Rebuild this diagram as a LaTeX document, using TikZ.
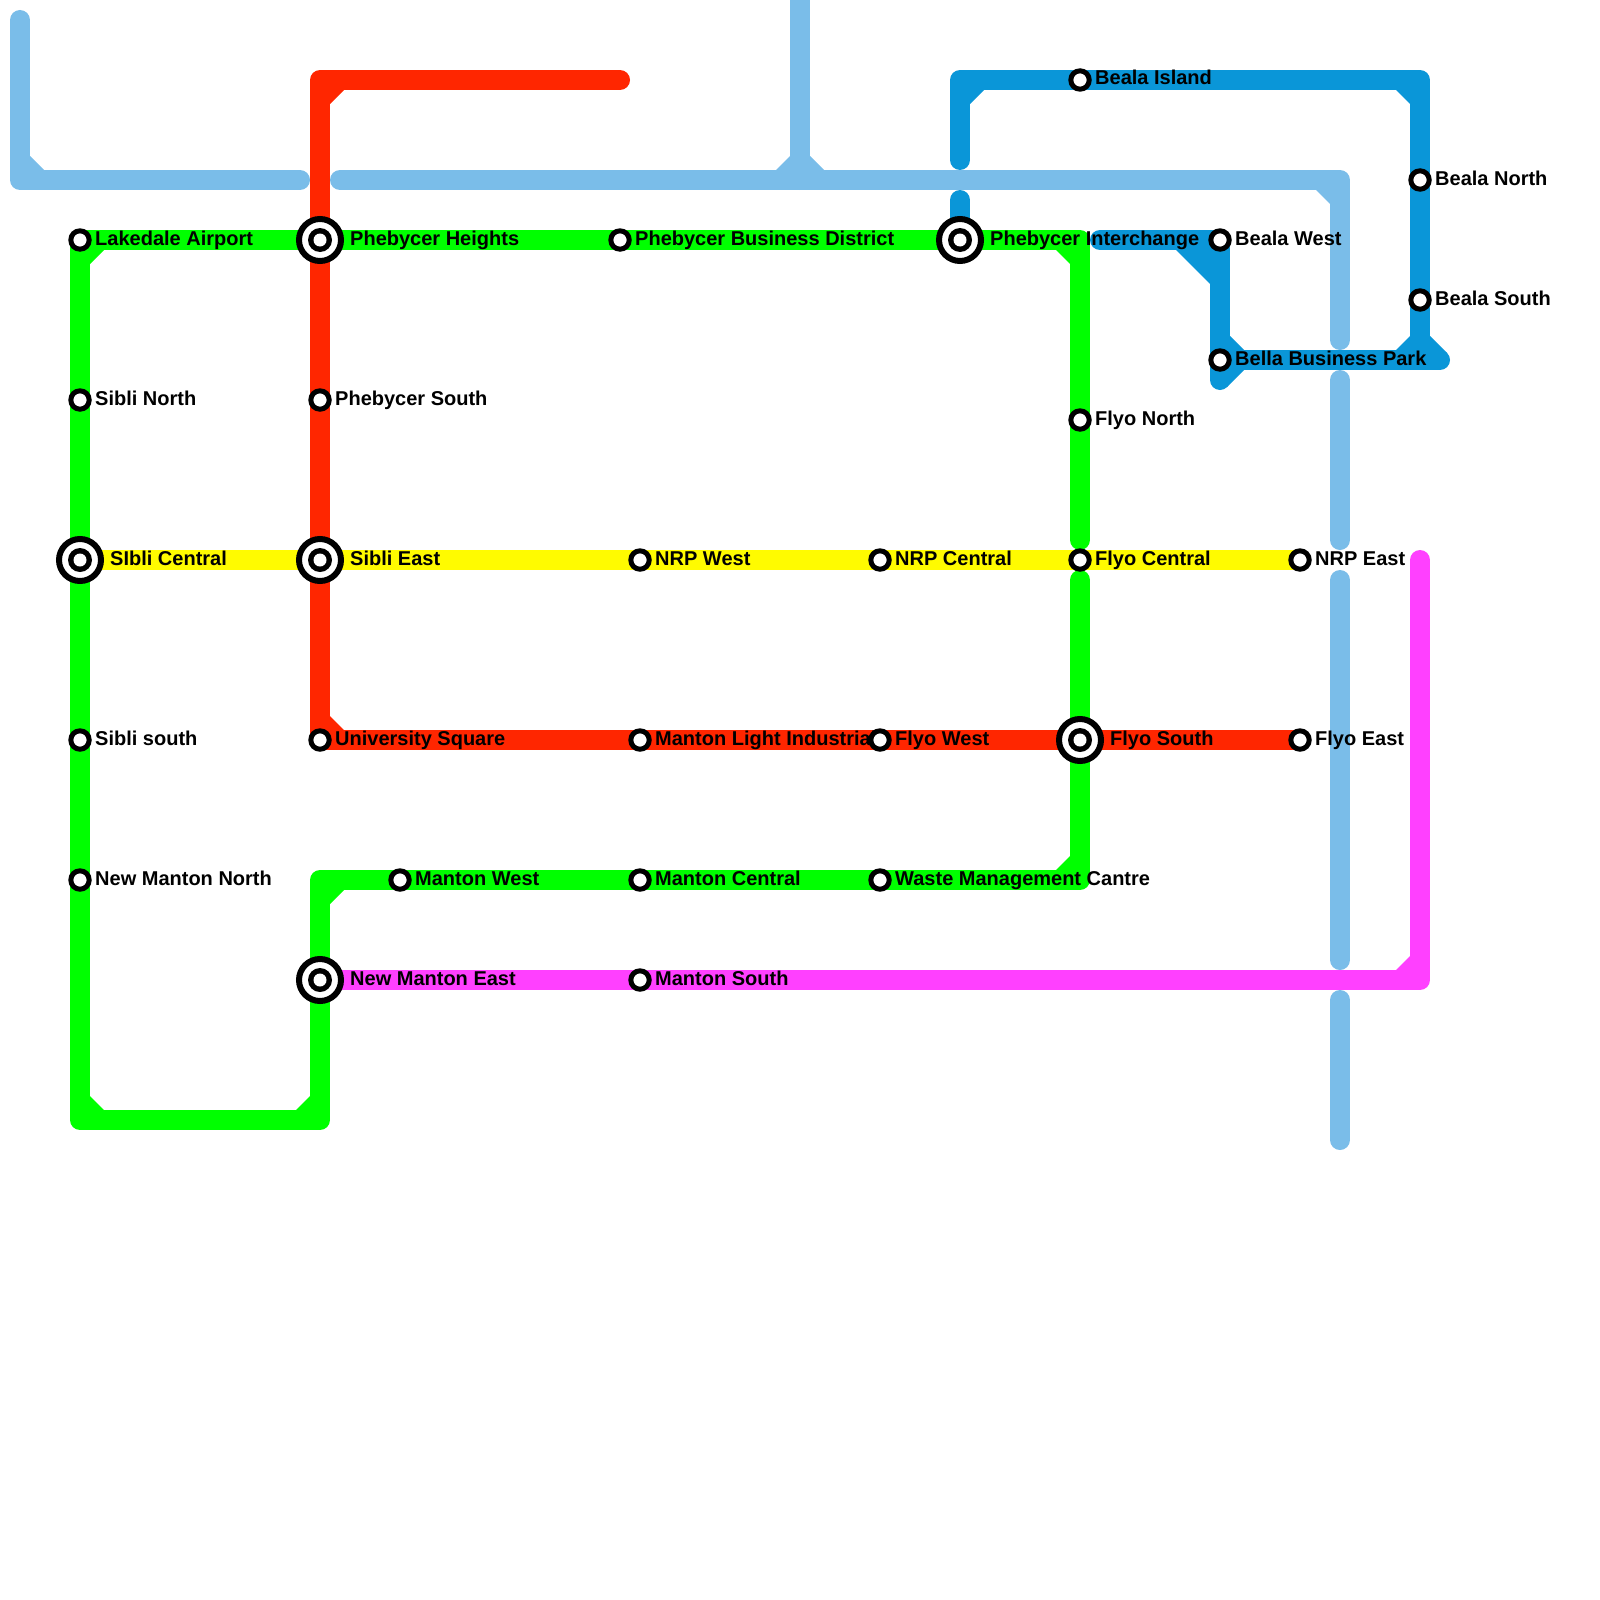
\documentclass[tikz,border=0pt]{standalone}
\usepackage{fontspec}
\setmainfont{Liberation Sans}
\usetikzlibrary{calc}
\pgfdeclarelayer{lines}
\pgfsetlayers{lines,main}
\definecolor{cGreen}{HTML}{00FF00}
\definecolor{cRed}{HTML}{FF2600}
\definecolor{cYellow}{HTML}{FFFB00}
\definecolor{cMagenta}{HTML}{FF40FF}
\definecolor{cSky}{HTML}{7ABDE9}
\definecolor{cBlue}{HTML}{0A96D8}
\tikzset{
  x=1pt,y=-1pt,
  metro/.style={line width=20pt,line cap=round,line join=round},
  stn/.style={circle,draw=black,line width=5pt,fill=white,minimum size=18.4pt,inner sep=0pt},
  hub/.style={circle,fill=white,draw=black,line width=6pt,minimum size=42pt,inner sep=0pt,
    path picture={\fill[black] (path picture bounding box.center) circle[radius=12pt];
                  \fill[white] (path picture bounding box.center) circle[radius=6.5pt];}},
  lbl/.style={anchor=base west,inner sep=0pt,font=\fontsize{20}{20}\selectfont\bfseries,text=black},
}
% inner-corner filler: #1 colour, #2 corner, #3 and #4 offsets along the two edges
\newcommand{\wedgefill}[4]{\fill[#1] (#2) -- ++(#3) -- ($(#2)+(#4)$) -- cycle;}
\begin{document}
\begin{tikzpicture}
\useasboundingbox (0,0) rectangle (1600,1600);
% labels
\foreach \n/\x/\y/\t in {
 l1/95/245/Lakedale Airport, l2/350/245/Phebycer Heights, l3/635/245/Phebycer Business District,
 l4/990/245/Phebycer Interchange, l5/1095/85/Beala Island, l6/1235/245/Beala West,
 l7/1435/185/Beala North, l8/1435/305/Beala South, l9/1235/365/Bella Business Park,
 l10/95/405/Sibli North, l11/335/405/Phebycer South, l12/1095/425/Flyo North,
 l13/110/565/SIbli Central, l14/350/565/Sibli East, l15/655/565/NRP West,
 l16/895/565/NRP Central, l17/1095/565/Flyo Central, l18/1315/565/NRP East,
 l19/95/745/Sibli south, l20/335/745/University Square, l21/655/745/Manton Light Industrial,
 l22/895/745/Flyo West, l23/1110/745/Flyo South, l24/1315/745/Flyo East,
 l25/95/885/New Manton North, l26/415/885/Manton West, l27/655/885/Manton Central,
 l28/895/885/Waste Management Cantre, l29/350/985/New Manton East, l30/655/985/Manton South}
 {\node[lbl] (\n) at (\x,\y) {\t};}
% stations
\foreach \n/\x/\y in {lakedale/80/240,phbiz/620/240,island/1080/80,bwest/1220/240,bnorth/1420/180,
 bsouth/1420/300,bella/1220/360,snorth/80/400,phsouth/320/400,fnorth/1080/420,nrpw/640/560,
 nrpc/880/560,fcentral/1080/560,nrpe/1300/560,ssouth/80/740,univ/320/740,mli/640/740,fwest/880/740,
 feast/1300/740,nmn/80/880,mwest/400/880,mcentral/640/880,waste/880/880,msouth/640/980}
 {\node[stn] (\n) at (\x,\y) {};}
\foreach \n/\x/\y in {phheights/320/240,phint/960/240,scentral/80/560,seast/320/560,fsouth/1080/740,nme/320/980}
 {\node[hub] (\n) at (\x,\y) {};}
% bends and free ends
\foreach \n/\x/\y in {a1/20/20,a2/20/180,a3/300/180,a4/340/180,a5/1340/180,a6/1340/340,a7/1340/380,a8/1340/540,
 a9/1340/580,a10/1340/960,a11/1340/1000,a12/1340/1140,a13/800/-20,a14/800/180,
 r1/620/80,r2/320/80,g1/1080/240,g2/1080/540,g3/1080/580,g4/1080/880,g5/320/880,g6/320/1120,g7/80/1120,
 m1/1420/980,m2/1420/560,b1/960/160,b2/960/80,b3/1420/80,b4/1420/360,b5/1440/360,b6/1220/380,
 b7/960/200,b8/1100/240}
 {\coordinate (\n) at (\x,\y);}
\begin{pgfonlayer}{lines}
% light blue
\draw[metro,cSky] (a1) -- (a2) -- (a3);
\draw[metro,cSky] (a4) -- (a5) -- (a6);
\draw[metro,cSky] (a7) -- (a8);
\draw[metro,cSky] (a9) -- (a10);
\draw[metro,cSky] (a11) -- (a12);
\draw[metro,cSky] (a13) -- (a14);
\wedgefill{cSky}{30,170}{14,0}{0,-14}
\wedgefill{cSky}{790,170}{-14,0}{0,-14}
\wedgefill{cSky}{810,170}{14,0}{0,-14}
\wedgefill{cSky}{1330,190}{-14,0}{0,14}
% blue
\draw[metro,cBlue] (b1) -- (b2) -- (island.center) -- (b3) -- (bnorth.center) -- (bsouth.center) -- (b4) -- (b5);
\draw[metro,cBlue] (b4) -- (bella.center);
\draw[metro,cBlue] (b8) -- (bwest.center) -- (bella.center) -- (b6);
\draw[metro,cBlue] (b7) -- (phint.center);
\wedgefill{cBlue}{970,90}{14,0}{0,14}
\wedgefill{cBlue}{1410,90}{-14,0}{0,14}
\wedgefill{cBlue}{1210,250}{-34,0}{0,34}
\wedgefill{cBlue}{1230,350}{14,0}{0,-14}
\fill[cBlue] (1220,370) -- (1244,370) -- (1227,387) -- cycle;
\wedgefill{cBlue}{1410,350}{-14,0}{0,-14}
\fill[cBlue] (1430,336) -- (1447,353) -- (1430,360) -- cycle;
% green
\draw[metro,cGreen] (phint.center) -- (g1) -- (fnorth.center) -- (g2);
\draw[metro,cGreen] (g3) -- (fsouth.center) -- (g4) -- (waste.center) -- (mcentral.center) -- (mwest.center) -- (g5) -- (nme.center) -- (g6) -- (g7) -- (nmn.center) -- (ssouth.center) -- (scentral.center) -- (snorth.center) -- (lakedale.center) -- (phheights.center) -- (phbiz.center) -- (phint.center);
\wedgefill{cGreen}{90,250}{14,0}{0,14}
\wedgefill{cGreen}{1070,250}{-14,0}{0,14}
\wedgefill{cGreen}{1070,870}{-14,0}{0,-14}
\wedgefill{cGreen}{330,890}{14,0}{0,14}
\wedgefill{cGreen}{310,1110}{-14,0}{0,-14}
\wedgefill{cGreen}{90,1110}{14,0}{0,-14}
% red
\draw[metro,cRed] (r1) -- (r2) -- (phheights.center) -- (phsouth.center) -- (seast.center) -- (univ.center) -- (mli.center) -- (fwest.center) -- (fsouth.center) -- (feast.center);
\wedgefill{cRed}{330,90}{14,0}{0,14}
\wedgefill{cRed}{330,730}{14,0}{0,-14}
% yellow
\draw[metro,cYellow] (scentral.center) -- (seast.center) -- (nrpw.center) -- (nrpc.center) -- (fcentral.center) -- (nrpe.center);
% magenta
\draw[metro,cMagenta] (nme.center) -- (msouth.center) -- (m1) -- (m2);
\wedgefill{cMagenta}{1410,970}{-14,0}{0,-14}
\end{pgfonlayer}
\end{tikzpicture}
\end{document}
